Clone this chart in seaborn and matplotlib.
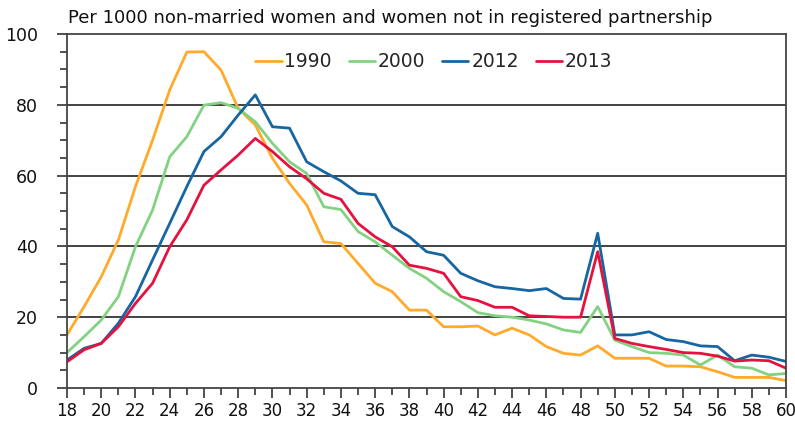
import matplotlib
matplotlib.use('Agg')
import matplotlib.pyplot as plt
from matplotlib.ticker import MultipleLocator
import pandas as pd
import seaborn as sns

ages = list(range(18, 61))

rate_1990 = [15.0, 23.0, 31.4, 41.8, 56.9, 70.0, 84.2, 94.9, 95.0, 89.8,
             79.0, 74.3, 64.9, 57.8, 51.7, 41.3, 40.8, 35.2, 29.6, 27.2,
             22.0, 22.0, 17.3, 17.3, 17.5, 15.0, 16.9, 15.0, 11.7, 9.8,
             9.3, 11.9, 8.4, 8.4, 8.4, 6.2, 6.2, 6.0, 4.6, 3.0,
             3.0, 3.0, 2.1]
rate_2000 = [10.0, 14.5, 19.2, 25.8, 39.9, 50.3, 65.3, 71.0, 79.9, 80.6,
             79.0, 75.2, 69.1, 63.9, 60.6, 51.2, 50.4, 44.2, 41.3, 37.5,
             33.8, 31.0, 27.2, 24.4, 21.3, 20.4, 20.0, 19.2, 18.1, 16.4,
             15.7, 23.0, 13.5, 11.7, 10.0, 9.8, 9.3, 6.5, 9.3, 6.0,
             5.6, 3.7, 4.1]
rate_2012 = [7.9, 11.2, 12.6, 18.3, 25.8, 36.2, 46.5, 56.9, 66.8, 71.0,
             77.1, 82.8, 73.8, 73.4, 63.9, 61.1, 58.5, 55.0, 54.6, 45.6,
             42.7, 38.5, 37.5, 32.4, 30.3, 28.6, 28.1, 27.5, 28.1, 25.3,
             25.1, 43.7, 15.0, 15.0, 15.9, 13.7, 13.1, 11.9, 11.7, 7.7,
             9.3, 8.7, 7.5]
rate_2013 = [7.4, 10.8, 12.6, 17.3, 23.9, 29.6, 39.9, 47.5, 57.3, 61.6,
             65.8, 70.5, 66.8, 62.5, 59.1, 55.0, 53.3, 46.5, 42.7, 39.9,
             34.7, 33.8, 32.4, 25.8, 24.7, 22.8, 22.8, 20.4, 20.2, 20.0,
             20.0, 38.5, 14.0, 12.6, 11.7, 10.9, 10.0, 9.8, 9.0, 7.6,
             7.9, 7.7, 5.6]

years = ['1990', '2000', '2012', '2013']
colors = ['#FFAA2B', '#82D282', '#1566A2', '#E5123F']
title = 'Per 1000 non-married women and women not in registered partnership'

df = pd.DataFrame({'Age': ages * 4,
                   'Rate': rate_1990 + rate_2000 + rate_2012 + rate_2013,
                   'Year': [y for y in years for _ in ages]})

sns.set_style('white')
plt.rcParams['font.family'] = ['DejaVu Sans']

fig = plt.figure(figsize=(7.95, 4.32), dpi=100)
ax = fig.add_axes([67 / 795, 1 - 388 / 432, 719 / 795, 354 / 432])

sns.lineplot(data=df, x='Age', y='Rate', hue='Year', hue_order=years,
             palette=dict(zip(years, colors)), linewidth=2.0, ax=ax)

ax.set_xlim(18, 60)
ax.set_ylim(0, 100)
ax.xaxis.set_major_locator(MultipleLocator(2))
ax.xaxis.set_minor_locator(MultipleLocator(1))
ax.yaxis.set_major_locator(MultipleLocator(20))
ax.yaxis.set_minor_locator(MultipleLocator(5))
ax.tick_params(which='both', direction='out', color='#333333', width=1.2,
               labelcolor='#111111')
ax.tick_params(which='major', length=7, bottom=True, left=True)
ax.tick_params(which='minor', length=5, bottom=True, left=True)
ax.tick_params(axis='x', pad=3, labelsize=12)
ax.tick_params(axis='y', pad=14, labelsize=12.5)
ax.set_xlabel('')
ax.set_ylabel('')

for v in [20, 40, 60, 80]:
    ax.axhline(v, color='#222222', linewidth=1.2, zorder=1)

for s in ax.spines.values():
    s.set_color('#444444')
    s.set_linewidth(1.3)

ax.legend(loc='upper center', bbox_to_anchor=(0.51, 0.985), ncol=4, frameon=False,
          fontsize=13.5, handlelength=1.4, handletextpad=0.15, columnspacing=0.9,
          borderaxespad=0.3)

fig.text(68 / 795, 1 - 18 / 432, title, fontsize=13, color='#111111',
         ha='left', va='center')

plt.savefig('out.png', dpi=100)
